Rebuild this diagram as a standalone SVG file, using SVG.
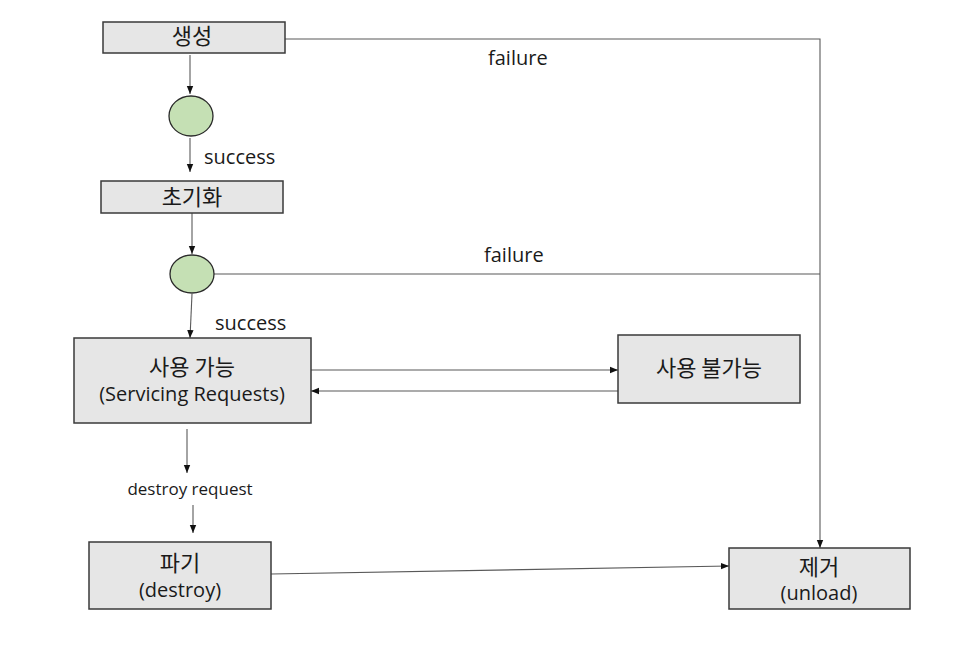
<svg xmlns="http://www.w3.org/2000/svg" width="971" height="647" viewBox="0 0 971 647">
<style>
.box{fill:#e6e6e6;stroke:#3a3a3a;stroke-width:1.5}
.dec{fill:#c5e0b4;stroke:#2a2a2a;stroke-width:1.3}
.ln{fill:none;stroke:#595959;stroke-width:1.1}
.t{font-family:"Open Sans","Noto Sans CJK KR",sans-serif;font-size:20px;fill:#1a1a1a;text-anchor:middle}
.l{font-family:"Open Sans","Noto Sans CJK KR",sans-serif;font-size:20px;fill:#1a1a1a}
.k{font-family:"Noto Sans CJK KR",sans-serif;font-size:22px}
.s{font-size:17px}
</style>
<defs>
<marker id="ah" viewBox="0 0 10 10" refX="10" refY="5" markerWidth="8" markerHeight="8" markerUnits="userSpaceOnUse" orient="auto">
<path d="M0,1 L10,5 L0,9 Z" fill="#111"/>
</marker>
</defs>
<rect width="971" height="647" fill="#fff"/>
<g id="connectors">
<line class="ln" x1="190" y1="55" x2="190" y2="94" marker-end="url(#ah)"/>
<line class="ln" x1="190" y1="138" x2="190" y2="172" marker-end="url(#ah)"/>
<line class="ln" x1="192" y1="213" x2="192" y2="254" marker-end="url(#ah)"/>
<line class="ln" x1="192" y1="294" x2="190" y2="338" marker-end="url(#ah)"/>
<polyline class="ln" points="285,39 820,39 820,548" marker-end="url(#ah)"/>
<line class="ln" x1="214" y1="274" x2="820" y2="274"/>
<line class="ln" x1="311" y1="370" x2="618" y2="370" marker-end="url(#ah)"/>
<line class="ln" x1="618" y1="391" x2="311" y2="391" marker-end="url(#ah)"/>
<line class="ln" x1="187" y1="429" x2="187" y2="473" marker-end="url(#ah)"/>
<line class="ln" x1="193" y1="505" x2="193" y2="533" marker-end="url(#ah)"/>
<line class="ln" x1="271" y1="574" x2="729" y2="566" marker-end="url(#ah)"/>
<text class="l" x="488" y="65">failure</text>
<text class="l" x="204" y="164">success</text>
<text class="l" x="484" y="262">failure</text>
<text class="l" x="215" y="330">success</text>
<text class="t s" x="190" y="495">destroy request</text>
</g>
<g id="create">
<rect class="box" x="103" y="22" width="182" height="31"/>
<text class="t k" x="192" y="44">생성</text>
</g>
<g id="check1">
<ellipse class="dec" cx="191" cy="116" rx="22" ry="20"/>
</g>
<g id="init">
<rect class="box" x="101" y="181" width="182" height="32"/>
<text class="t k" x="192" y="205">초기화</text>
</g>
<g id="check2">
<ellipse class="dec" cx="192" cy="274" rx="22" ry="19"/>
</g>
<g id="available">
<rect class="box" x="74" y="338" width="237" height="85"/>
<text class="t k" x="192" y="375">사용 가능</text>
<text class="t" x="192" y="401">(Servicing Requests)</text>
</g>
<g id="unavailable">
<rect class="box" x="618" y="335" width="182" height="68"/>
<text class="t k" x="709" y="376">사용 불가능</text>
</g>
<g id="destroy">
<rect class="box" x="89" y="542" width="182" height="67"/>
<text class="t k" x="180" y="571">파기</text>
<text class="t" x="180" y="597">(destroy)</text>
</g>
<g id="unload">
<rect class="box" x="729" y="548" width="181" height="61"/>
<text class="t k" x="819" y="575">제거</text>
<text class="t" x="819" y="600">(unload)</text>
</g>
</svg>
